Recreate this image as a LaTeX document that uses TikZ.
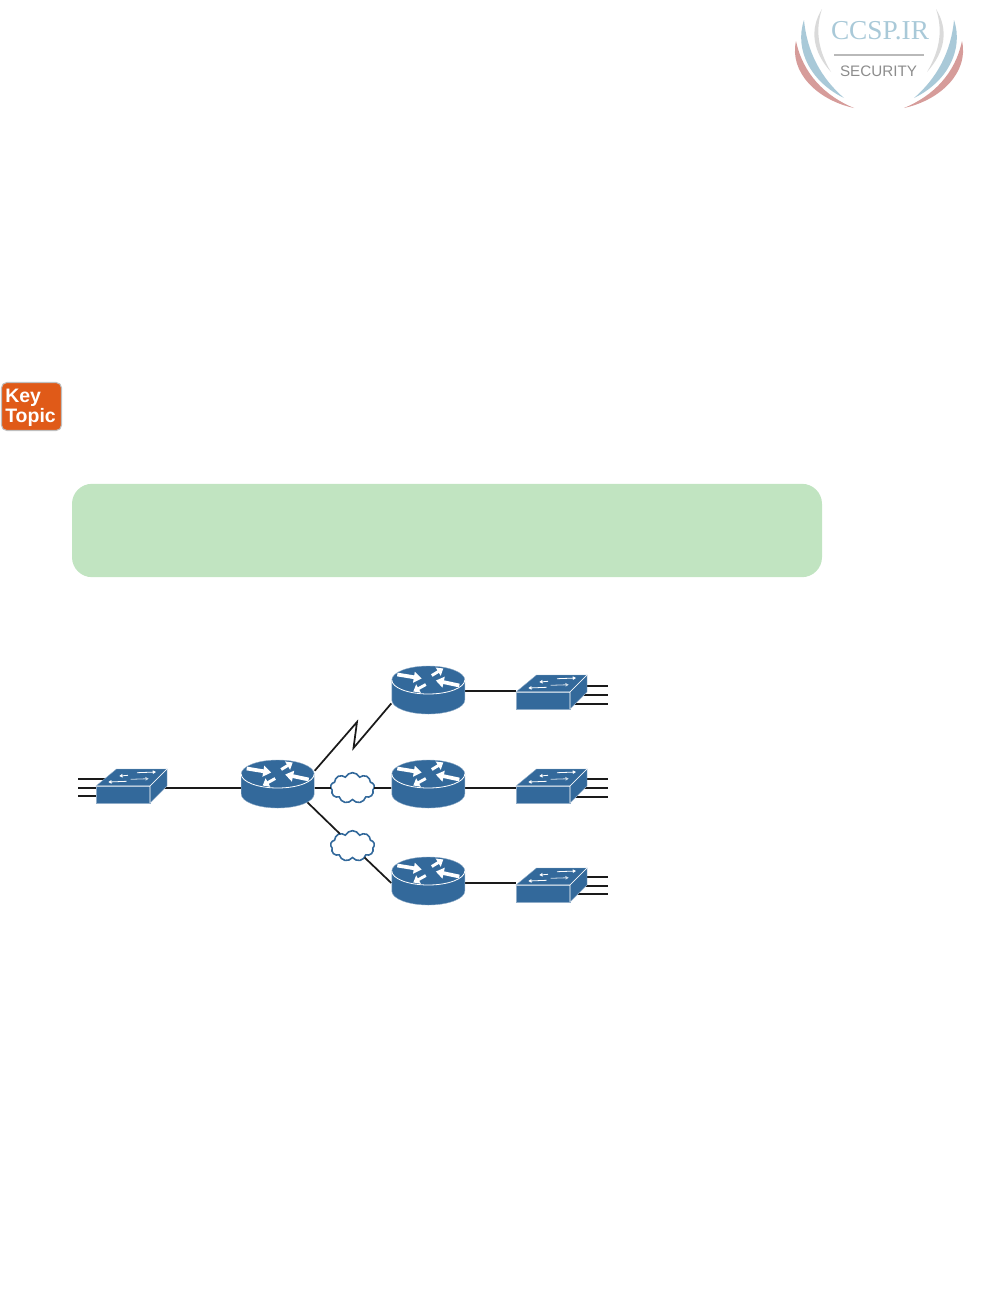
\documentclass[tikz,border=0pt]{standalone}
\usepackage{fontspec}
\setmainfont{Liberation Sans}
\newfontfamily\logoserif{Liberation Serif}
\usetikzlibrary{arrows.meta,shapes.symbols}

\definecolor{netblue}{HTML}{33699B}
\definecolor{linkblack}{HTML}{1A1A1A}
\definecolor{keyorange}{HTML}{E05A18}
\definecolor{boxgreen}{HTML}{C1E4C1}
\definecolor{logored}{HTML}{D69C9A}
\definecolor{logoblue}{HTML}{A9C9D8}
\definecolor{logogray}{HTML}{DADADA}

\tikzset{
  routernode/.style={minimum width=55.5pt, minimum height=36pt, inner sep=0pt, outer sep=0pt},
  switchnode/.style={minimum width=54pt, minimum height=25pt, inner sep=0pt, outer sep=0pt},
  cloudnode/.style={cloud, cloud puffs=9, cloud puff arc=130, aspect=1.5, draw=netblue, fill=white, line width=1.2pt,
    minimum width=33pt, minimum height=23pt, inner sep=0pt, outer sep=0pt},
  link/.style={draw=linkblack, line width=1.3pt},
  bigarrow/.style={white, line width=2.8pt, -{Triangle[length=6pt,width=8pt]}},
  midarrow/.style={white, line width=2.2pt, -{Triangle[length=4.5pt,width=7pt]}},
  smallarrow/.style={white, line width=0.6pt, -{Triangle[length=2.4pt,width=2.6pt]}},
  pics/routericon/.style={code={
    \fill[netblue, draw=netblue!55!white, line width=0.3pt] (-36.5,0) -- (-36.5,20) arc[start angle=180, end angle=0, x radius=36.5, y radius=14]
      -- (36.5,0) arc[start angle=0, end angle=-180, x radius=36.5, y radius=14] -- cycle;
    \draw[white, line width=0.6pt] (-36.5,0) arc[start angle=180, end angle=0, x radius=36.5, y radius=14];
    \draw[bigarrow] (-31,-5.5) -- (-6.5,-1.5);
    \draw[bigarrow] (31,5.5) -- (7.5,0.5);
    \draw[midarrow] (3.5,-4.5) -- (15,-11.5);
    \draw[midarrow] (-2.5,4.5) -- (-15,11.5);
  }},
  pics/switchicon/.style={code={
    \fill[netblue, draw=netblue!55!white, line width=0.3pt] (0,0) -- (20.5,-17) -- (71,-17) -- (54,0) -- cycle;
    \fill[netblue, draw=netblue!55!white, line width=0.3pt] (0,0) rectangle (54,17);
    \fill[netblue, draw=netblue!55!white, line width=0.3pt] (54,0) -- (71,-17) -- (71,0) -- (54,17) -- cycle;
    \draw[white, line width=0.4pt] (0,0) -- (54,0) -- (71,-17) (54,0) -- (54,17);
    \draw[smallarrow] (41,-13.3) -- (60,-14);
    \draw[smallarrow] (32,-10.7) -- (23.3,-10);
    \draw[smallarrow] (30.7,-4.7) -- (12.3,-4);
    \draw[smallarrow, white!75!netblue] (34.7,-6.7) -- (52.7,-7.3);
  }},
}

\begin{document}
\begin{tikzpicture}[x=0.75pt, y=-0.75pt]
  \useasboundingbox (0,0) rectangle (991,1314);

  % logo
  \foreach \s in {1,-1} {
    \begin{scope}[shift={(879,0)}, xscale=\s]
      \fill[logored] (-83,41) .. controls (-90,72) and (-62,100) .. (-25,108) .. controls (-54,96) and (-76,74) .. (-83,41) -- cycle;
      \fill[logoblue] (-75,20) .. controls (-85,50) and (-68,82) .. (-35,98) .. controls (-58,78) and (-72,52) .. (-75,20) -- cycle;
      \fill[logogray] (-57,9) .. controls (-70,30) and (-66,52) .. (-48,72) .. controls (-61,50) and (-64,30) .. (-57,9) -- cycle;
    \end{scope}
  }
  \node[text=logoblue, font=\logoserif\fontsize{20.5}{22}\selectfont, inner sep=0pt] (logotext) at (880,31) {CCSP.IR};
  \fill[logogray!85!black] (834,54) rectangle (924,56);
  \node[text=black!45, font=\fontsize{11.4}{13}\selectfont, inner sep=0pt] (logosub) at (878.5,71) {SECURITY};

  % key topic badge
  \node[fill=keyorange, draw=black!25, line width=0.8pt, rounded corners=4pt, minimum width=45pt, minimum height=36pt, inner sep=0pt] (keybadge) at (31.5,406.5) {};
  \node[text=white, font=\bfseries\fontsize{14.6}{13.2}\selectfont, align=left, inner sep=0pt, anchor=west] (keytext) at (5,408) {Key\\Topic};

  % green banner
  \node[fill=boxgreen, rounded corners=15pt, minimum width=562.5pt, minimum height=70pt, inner sep=0pt] (banner) at (447,530.5) {};

  % network
  \node[routernode] (r0) at (277.7,788) {};
  \node[routernode] (r1) at (428.3,690.7) {};
  \node[routernode] (r2) at (428.3,788) {};
  \node[routernode] (r3) at (428.3,883) {};
  \node[switchnode] (sw0) at (131.5,788) {};
  \node[switchnode] (sw1) at (552,690.7) {};
  \node[switchnode] (sw2) at (552,788) {};
  \node[switchnode] (sw3) at (552,883) {};
  \node[cloudnode] (cl1) at (352.5,788) {};
  \node[cloudnode] (cl2) at (352.5,846) {};
  \coordinate (bolt1) at (357,722);
  \coordinate (bolt2) at (353.5,748);

  \draw[link, shorten <=-3pt] (sw0.east) -- (r0.west);
  \draw[link] (r0.25) -- (bolt1) -- (bolt2) -- (r1.199);
  \draw[link] (r0.east) -- (cl1.west);
  \draw[link] (cl1.east) -- (r2.west);
  \draw[link, shorten <=-10pt] (r0.-30) -- (cl2);
  \draw[link] (cl2) -- (r3.west);
  \draw[link] (r1.east) -- (sw1.west);
  \draw[link] (r2.east) -- (sw2.west);
  \draw[link] (r3.east) -- (sw3.west);

  \foreach \dy in {-9,0,8}
    \draw[link] (sw0.west) ++(0,\dy) ++(25,0) -- ++(-43,0);
  \foreach \dy in {-5,4,13}
    \draw[link] (sw1.east) ++(-15,\dy) -- ++(35,0);
  \foreach \dy in {-9,0,9}
    \draw[link] (sw2.east) ++(-15,\dy) -- ++(35,0);
  \foreach \dy in {-6,3,11}
    \draw[link] (sw3.east) ++(-15,\dy) -- ++(35,0);

  \pic at (277.7,774) {routericon};
  \pic at (428.3,680) {routericon};
  \pic at (428.3,774) {routericon};
  \pic at (428.3,871) {routericon};
  \pic at (96,786) {switchicon};
  \pic at (516,692) {switchicon};
  \pic at (516,786) {switchicon};
  \pic at (516,885) {switchicon};
\end{tikzpicture}
\end{document}
